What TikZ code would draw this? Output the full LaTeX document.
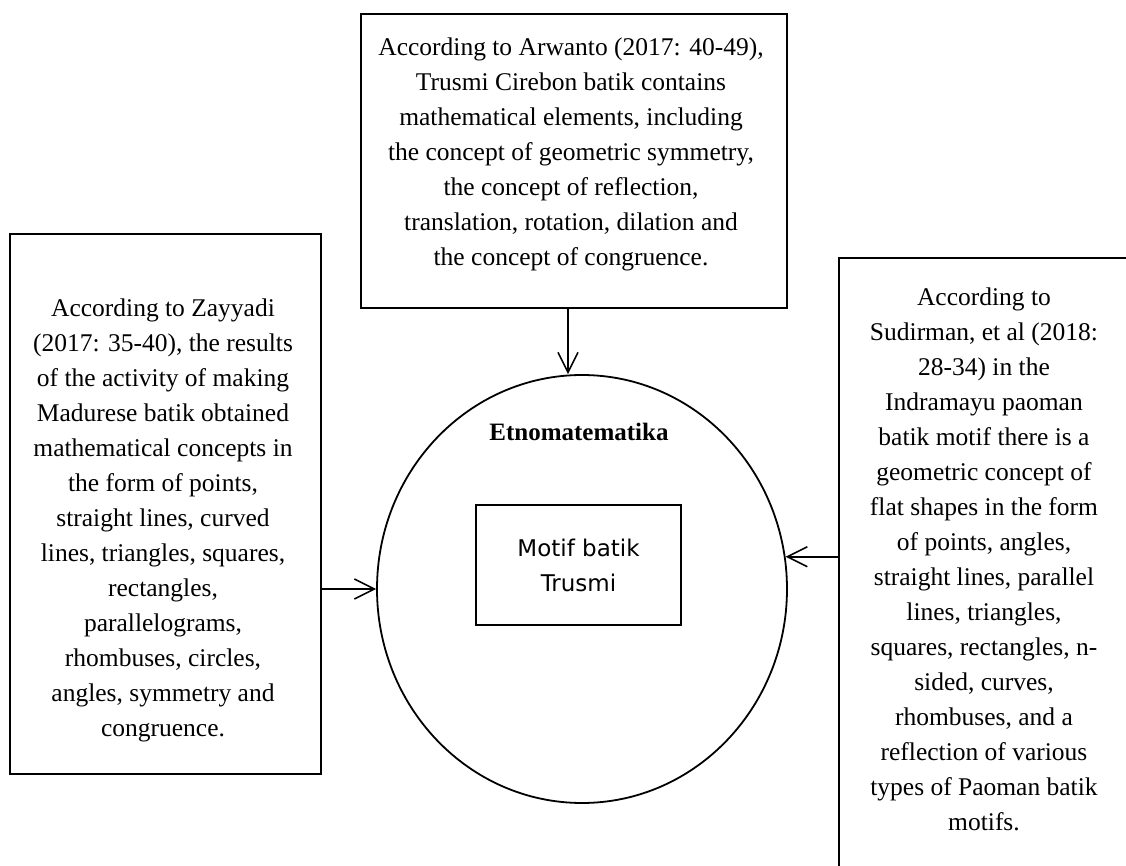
\documentclass[tikz,border=0pt]{standalone}
\usepackage{fontspec}
\setmainfont{Liberation Serif}
\newfontfamily\motiffont{DejaVu Sans}
\usetikzlibrary{arrows.meta,positioning,shapes.geometric}

\begin{document}
\begin{tikzpicture}[
  x=0.5pt, y=-0.5pt,
  box/.style={rectangle, draw, line width=0.9pt, inner sep=0pt},
  txt/.style={align=center, inner sep=0pt, font=\fontsize{12.75pt}{17.5pt}\selectfont},
  arrow/.style={-{Straight Barb[length=10pt, width=10pt]}, line width=0.8pt},
]
\useasboundingbox (0,0) rectangle (1126,866);
\clip (0,0) rectangle (1126,866);

% Top source
\node[box, minimum width=213pt, minimum height=147pt] (arwanto) at (574,161) {};
\node[txt] (arwantotxt) at (571,154.5) {According to Arwanto (2017: 40-49),\\Trusmi Cirebon batik contains\\mathematical elements, including\\the concept of geometric symmetry,\\the concept of reflection,\\translation, rotation, dilation and\\the concept of congruence.};

% Left source
\node[box, minimum width=155.5pt, minimum height=270pt] (zayyadi) at (165.5,504) {};
\node[txt] (zayyaditxt) at (163,520.5) {According to Zayyadi\\(2017: 35-40), the results\\of the activity of making\\Madurese batik obtained\\mathematical concepts in\\the form of points,\\straight lines, curved\\lines, triangles, squares,\\rectangles,\\parallelograms,\\rhombuses, circles,\\angles, symmetry and\\congruence.};

% Right source (runs off the page)
\node[box, minimum width=146pt, minimum height=321pt] (sudirman) at (985,579) {};
\node[txt] (sudirmantxt) at (984,559) {According to\\Sudirman, et al (2018:\\28-34) in the\\Indramayu paoman\\batik motif there is a\\geometric concept of\\flat shapes in the form\\of points, angles,\\straight lines, parallel\\lines, triangles,\\squares, rectangles, n-\\sided, curves,\\rhombuses, and a\\reflection of various\\types of Paoman batik\\motifs.};

% Centre
\node[ellipse, draw, line width=0.9pt, minimum width=205pt, minimum height=214pt, inner sep=0pt] (etno) at (582,589) {};
\node[anchor=base, inner sep=0pt, font=\fontsize{12.5pt}{15pt}\selectfont\bfseries] (etnotitle) at (579,441) {Etnomatematika};
\node[box, minimum width=102.5pt, minimum height=60pt, align=center, font=\motiffont\fontsize{11.5pt}{17.5pt}\selectfont] (motif) at (578.5,565) {Motif batik\\Trusmi};

% Arrows into the circle
\draw[arrow] ([xshift=-3pt]arwanto.south) -- ([xshift=-7pt]etno.north);
\draw[arrow] (zayyadi.east |- etno.west) -- (etno.west);
\draw[arrow] (sudirman.west |- etno.9) -- (etno.9);

\end{tikzpicture}
\end{document}
